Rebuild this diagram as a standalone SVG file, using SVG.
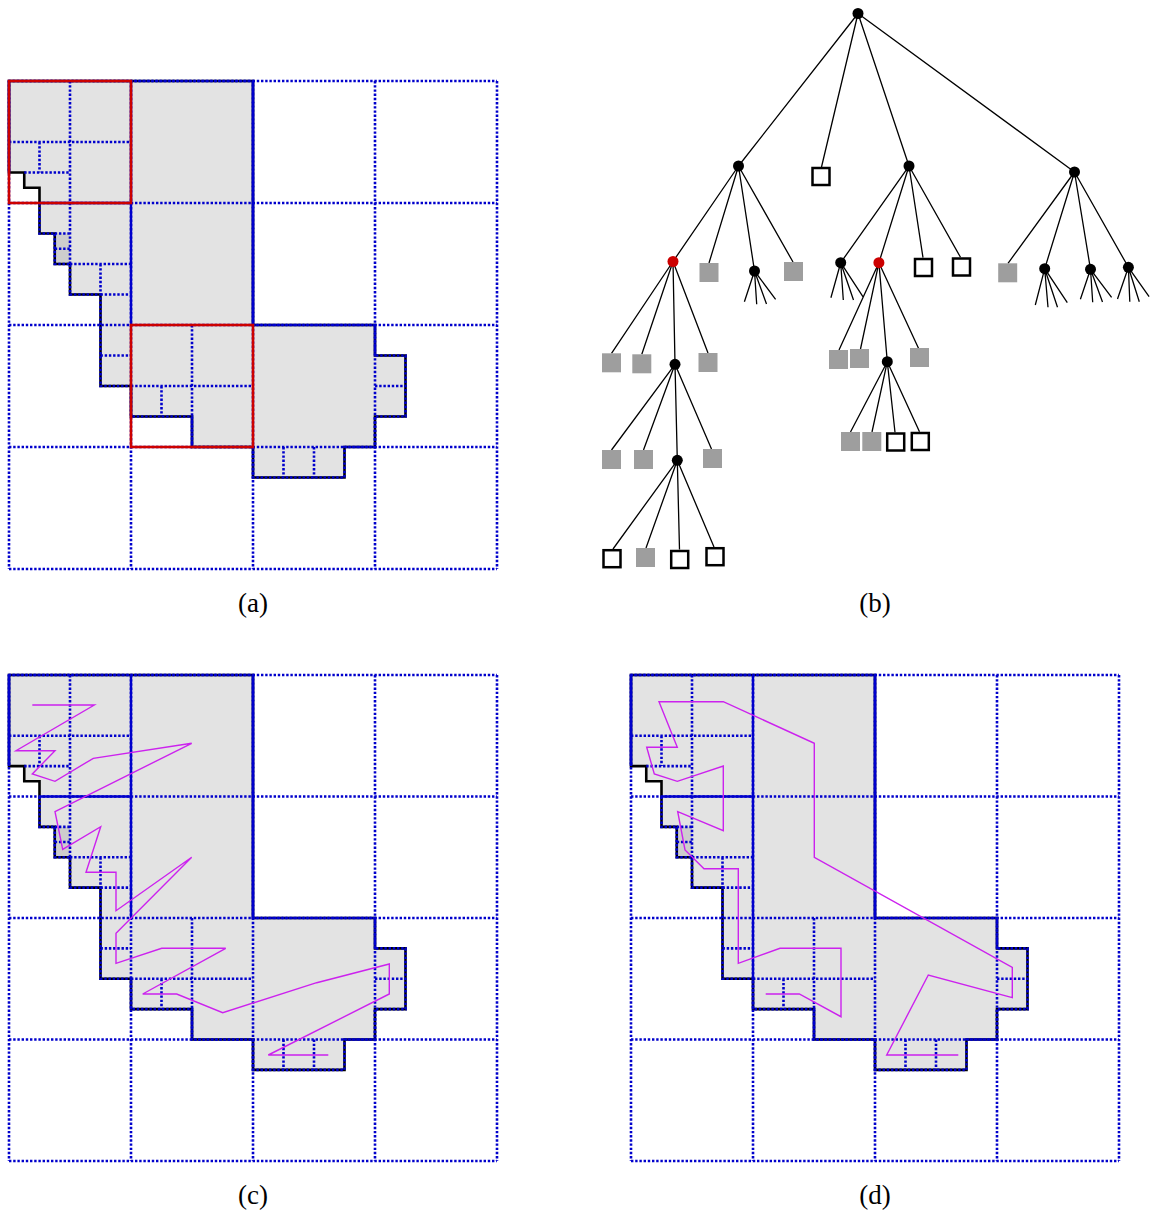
<svg xmlns="http://www.w3.org/2000/svg" xmlns:xlink="http://www.w3.org/1999/xlink" width="1150" height="1213" viewBox="0 0 1150 1213">
<style>
.dot{fill:none;stroke:#0000cc;stroke-width:2.6;stroke-dasharray:2.4 1.8}
.sol{fill:none;stroke:#0000cc;stroke-width:2.4}
.fillg{fill:#e3e3e3;stroke:none}
.outl{fill:none;stroke:#000;stroke-width:2.6}
.dark{fill:#cdcdcd}
.red{fill:none;stroke:#cc0000;stroke-width:2.6}
.sfc{fill:none;stroke:#cc22ee;stroke-width:1.4;stroke-linejoin:miter}
.edge{fill:none;stroke:#000;stroke-width:1.3}
.gsq{fill:#9e9e9e}
.wsq{fill:#fff;stroke:#000;stroke-width:2.5}
.nd{fill:#000}
.rn{fill:#cc0000}
.cap{font-family:"Liberation Serif","Times New Roman",serif;font-size:27px;text-anchor:middle;fill:#000}
</style>
<defs>
<polygon id="shp" points="9,81 253,81 253,325 375,325 375,355.5 405.5,355.5 405.5,416.5 375,416.5 375,447 344.5,447 344.5,477.5 253,477.5 253,447 192,447 192,416.5 131,416.5 131,386 100.5,386 100.5,294.5 70,294.5 70,264 54.75,264 54.75,233.5 39.5,233.5 39.5,187.75 24.25,187.75 24.25,172.5 9,172.5"/>
<g id="quad">
<use xlink:href="#shp" class="fillg"/>
<rect class="dark" x="54.75" y="233.5" width="15.25" height="30.5"/>
<use xlink:href="#shp" class="outl"/>
<path class="dot" d="M9,81H497 M9,203H497 M9,325H497 M9,447H497 M9,569H497 M9,81V569 M131,81V569 M253,81V569 M375,81V569 M497,81V569"/>
<polyline class="dot" points="39.5,203 39.5,233.5 54.75,233.5 54.75,264 70,264 70,294.5 100.5,294.5 100.5,386 131,386 131,416.5 192,416.5 192,447 253,447 253,477.5 344.5,477.5 344.5,447 375,447 375,416.5 405.5,416.5 405.5,355.5 375,355.5 375,325 253,325 253,81 9,81 9,172.5"/>
<path class="dot" d="M70,81V264 M9,142H131 M39.5,142V172.5 M24.25,172.5H70 M54.75,248.75H70 M54.75,233.5H70 M70,264H131 M100.5,264V294.5 M100.5,294.5H131 M100.5,355.5H131 M192,325V447 M131,386H253 M161.5,386V416.5 M375,386H405.5 M283.5,447V477.5 M314,447V477.5"/>
<path class="sol" d="M131,81V325 M253,81V325 M39.5,203H131 M9,81V172.5"/>
</g>
</defs>

<g id="panel-a">
<use xlink:href="#quad"/>
<rect class="red" x="9" y="81" width="122" height="122"/>
<rect class="red" x="131" y="325" width="122" height="122"/>
</g>

<g id="panel-c">
<use xlink:href="#quad" transform="translate(0,675) scale(1,0.9959) translate(0,-81)"/>
<polyline class="sfc" points="32.3,705 94.3,705 16,750.7 55,750.7 32.3,774 55,781.3 93.3,758.3 191.7,743.3 55,811.7 62.7,849.3 100.7,826.7 86,872.3 116,872.3 116,910.7 191.7,857.3 116,933.3 116,963.3 161.7,948.3 225.7,948.3 142.7,994 176.7,994 222.7,1012.7 316.7,982.7 389.3,964 389.3,994 268.3,1055 328.3,1055"/>
</g>

<g id="panel-d">
<g transform="translate(622,675) scale(1,0.9959) translate(0,-81)">
<use xlink:href="#quad"/>
<path class="sol" d="M131,325V386"/>
</g>
<polyline class="sfc" points="765.7,994 799.3,994 841,1016.7 841,948.3 780,948.3 738.3,963.3 738.3,868.7 704,868.7 685,850 677.7,811.7 723.3,830.7 723.3,766 677.3,781.3 654.3,774 646.7,747.3 677.3,747.3 659,701.7 723.3,701.7 814.3,743.3 814.3,857.3 1012.3,967.3 1012.3,997.7 928.3,975 886.7,1055 958.3,1055"/>
</g>

<g id="tree">
<g id="connectors">
<path class="edge" d="M858,13.5L738.5,166 M858,13.5L821.5,167 M858,13.5L909,166 M858,13.5L1074.5,172
M738.5,166L673,261.5 M738.5,166L709,263 M738.5,166L754.5,271 M738.5,166L793,262
M754.5,271L744.4,301.7 M754.5,271L756.7,304.3 M754.5,271L766.5,304 M754.5,271L775.6,299.3
M673,261.5L611.5,353.3 M673,261.5L641.8,354.3 M673,261.5L675,364.3 M673,261.5L708,353
M675,364.3L611.5,450 M675,364.3L643.5,450 M675,364.3L677.3,460.3 M675,364.3L711.5,449
M677.3,460.3L613,549 M677.3,460.3L646,548 M677.3,460.3L679.5,549.5 M677.3,460.3L714,547
M909,166L840.7,262.7 M909,166L878.9,262.7 M909,166L923,257.7 M909,166L960.5,257.3
M840.7,262.7L830.9,297.7 M840.7,262.7L843.3,300 M840.7,262.7L853.5,300 M840.7,262.7L862.9,296.7
M878.9,262.7L839,350 M878.9,262.7L860.5,349 M878.9,262.7L887.3,361.7 M878.9,262.7L918.5,348.3
M887.3,361.7L850.5,432 M887.3,361.7L872,432 M887.3,361.7L895,432.3 M887.3,361.7L919.5,431.7
M1074.5,172L1008,263.3 M1074.5,172L1044.7,268.7 M1074.5,172L1090.5,269.3 M1074.5,172L1128.4,267.3
M1044.7,268.7L1035.3,305 M1044.7,268.7L1048,307.3 M1044.7,268.7L1057.5,307.3 M1044.7,268.7L1067.3,302.7
M1090.5,269.3L1080.4,299.3 M1090.5,269.3L1092.7,302.3 M1090.5,269.3L1102.5,302 M1090.5,269.3L1111.6,297.3
M1128.4,267.3L1117.5,299 M1128.4,267.3L1129.8,301.7 M1128.4,267.3L1139.3,301.7 M1128.4,267.3L1149.1,296.7"/>
</g>
<g id="n-root"><circle class="nd" cx="858" cy="13.5" r="5.5"/></g>
<g id="n-a"><circle class="nd" cx="738.5" cy="166" r="5.5"/></g>
<g id="n-s1"><rect class="wsq" x="812.5" y="168" width="17" height="17"/></g>
<g id="n-b"><circle class="nd" cx="909" cy="166" r="5.5"/></g>
<g id="n-c"><circle class="nd" cx="1074.5" cy="172" r="5.5"/></g>
<g id="n-r1"><circle class="rn" cx="673" cy="261.5" r="5.5"/></g>
<g id="n-a2"><rect class="gsq" x="699.5" y="263" width="19" height="19"/></g>
<g id="n-a3"><circle class="nd" cx="754.5" cy="271" r="5.5"/></g>
<g id="n-a4"><rect class="gsq" x="784" y="262" width="19" height="19"/></g>
<g id="n-r1a"><rect class="gsq" x="602" y="353.3" width="19" height="19"/></g>
<g id="n-r1b"><rect class="gsq" x="632.3" y="354.3" width="19" height="19"/></g>
<g id="n-d"><circle class="nd" cx="675" cy="364.3" r="5.5"/></g>
<g id="n-r1d"><rect class="gsq" x="698.5" y="353" width="19" height="19"/></g>
<g id="n-da"><rect class="gsq" x="602" y="450" width="19" height="19"/></g>
<g id="n-db"><rect class="gsq" x="634" y="450" width="19" height="19"/></g>
<g id="n-e"><circle class="nd" cx="677.3" cy="460.3" r="5.5"/></g>
<g id="n-dd"><rect class="gsq" x="703" y="449" width="19" height="19"/></g>
<g id="n-ea"><rect class="wsq" x="603.5" y="550.2" width="17" height="17"/></g>
<g id="n-eb"><rect class="gsq" x="636" y="548" width="19" height="19"/></g>
<g id="n-ec"><rect class="wsq" x="671.2" y="551" width="17" height="17"/></g>
<g id="n-ed"><rect class="wsq" x="706.5" y="548.2" width="17" height="17"/></g>
<g id="n-b1"><circle class="nd" cx="840.7" cy="262.7" r="5.5"/></g>
<g id="n-r2"><circle class="rn" cx="878.9" cy="262.7" r="5.5"/></g>
<g id="n-b3"><rect class="wsq" x="915" y="259" width="17" height="17"/></g>
<g id="n-b4"><rect class="wsq" x="953" y="258.5" width="17" height="17"/></g>
<g id="n-r2a"><rect class="gsq" x="829" y="350" width="19" height="19"/></g>
<g id="n-r2b"><rect class="gsq" x="850" y="349" width="19" height="19"/></g>
<g id="n-f"><circle class="nd" cx="887.3" cy="361.7" r="5.5"/></g>
<g id="n-r2d"><rect class="gsq" x="910" y="348" width="19" height="19"/></g>
<g id="n-fa"><rect class="gsq" x="841" y="432" width="19" height="19"/></g>
<g id="n-fb"><rect class="gsq" x="862.3" y="432" width="19" height="19"/></g>
<g id="n-fc"><rect class="wsq" x="887.2" y="433.5" width="17" height="17"/></g>
<g id="n-fd"><rect class="wsq" x="911.8" y="433" width="17" height="17"/></g>
<g id="n-c1"><rect class="gsq" x="998.2" y="263.3" width="19" height="19"/></g>
<g id="n-c2"><circle class="nd" cx="1044.7" cy="268.7" r="5.5"/></g>
<g id="n-c3"><circle class="nd" cx="1090.5" cy="269.3" r="5.5"/></g>
<g id="n-c4"><circle class="nd" cx="1128.4" cy="267.3" r="5.5"/></g>
</g>

<g id="captions">
<text class="cap" x="253" y="612">(a)</text>
<text class="cap" x="875" y="612">(b)</text>
<text class="cap" x="253" y="1204">(c)</text>
<text class="cap" x="875" y="1204">(d)</text>
</g>
</svg>
